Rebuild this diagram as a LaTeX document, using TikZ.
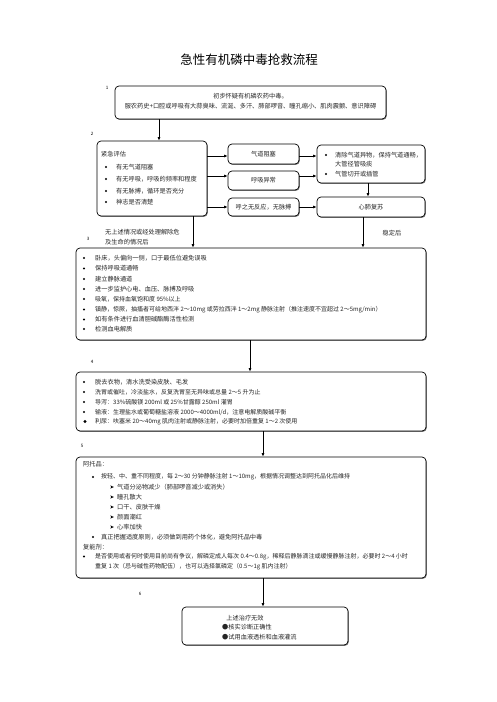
\documentclass[tikz,border=0pt]{standalone}
\usepackage{fontspec}
\setmainfont{Noto Sans CJK SC}
\usetikzlibrary{arrows.meta,shadows}
\newcommand\subarr[2]{\fill (#1-1.6,#2-1.6) -- (#1+1.8,#2) -- (#1-1.6,#2+1.6) -- (#1-0.8,#2) -- cycle;}
\newcommand\bul[2]{\fill (#1,#2) circle (1.1pt);}
\begin{document}
\begin{tikzpicture}[x=1pt,y=-1pt,
  box/.style={draw,line width=0.7pt,rounded corners=4pt,fill=white,inner sep=0pt,
    drop shadow={shadow xshift=0.8pt,shadow yshift=-0.9pt,fill=black!60,opacity=0.85}},
  txt/.style={font=\fontsize{6.2}{7}\selectfont,inner sep=0pt,text=black!85},
  txtl/.style={txt,font=\fontsize{6.0}{7}\selectfont},
  lbl/.style={font=\fontsize{4.5}{5}\selectfont,inner sep=0pt},
  arr/.style={-{Latex[length=3.5pt,width=3pt]},line width=0.7pt}]
\useasboundingbox (0,0) rectangle (496,702);
\fill[white] (0,0) rectangle (496,702);

\node[font=\fontsize{12.5}{14}\selectfont,inner sep=0pt] (title) at (249,60) {急性有机磷中毒抢救流程};

% section labels
\node[lbl] (n1) at (107,88) {1};
\node[lbl] (n2) at (92,134) {2};
\node[lbl] (n3) at (88,239) {3};
\node[lbl] (n4) at (92,362) {4};
\node[lbl] (n5) at (82,446) {5};
\node[lbl] (n6) at (140,594) {6};

% box 1
\node[box,minimum width=271pt,minimum height=33pt] (b1) at (250.5,102.5) {};
\node[txt] (t1a) at (250.5,96) {初步怀疑有机磷农药中毒。};
\node[txt] (t1b) at (250.5,106.5) {服农药史+口腔或呼吸有大蒜臭味、流涎、多汗、肺部啰音、瞳孔缩小、肌肉震颤、意识障碍};

% box 2 (assessment)
\node[box,minimum width=110pt,minimum height=75pt] (b2) at (152,178.5) {};
\node[txt,anchor=west] (t2a) at (101,154) {紧急评估};
\bul{106}{167}\node[txt,anchor=west] (t2b) at (116,167) {有无气道阻塞};
\bul{106}{179}\node[txt,anchor=west] (t2c) at (116,179) {有无呼吸，呼吸的频率和程度};
\bul{106}{191}\node[txt,anchor=west] (t2d) at (116,191) {有无脉搏，循环是否充分};
\bul{106}{202}\node[txt,anchor=west] (t2e) at (116,202) {神志是否清楚};

% middle boxes
\node[box,minimum width=71pt,minimum height=20pt] (qd) at (263.5,154) {};
\node[txt] (tqd) at (263.5,154) {气道阻塞};
\node[box,minimum width=71pt,minimum height=19pt] (hx) at (263.5,180.5) {};
\node[txt] (thx) at (263.5,180.5) {呼吸异常};
\node[box,minimum width=71pt,minimum height=18pt] (wf) at (263.5,207) {};
\node[txt] (twf) at (263.5,207) {呼之无反应，无脉搏};

% right boxes
\node[box,minimum width=108pt,minimum height=38pt] (rb) at (371,164) {};
\bul{326}{155}\node[txt,anchor=west] (trb1) at (335,155) {清除气道异物，保持气道通畅，};
\node[txt,anchor=west] (trb2) at (335,164.5) {大管径管吸痰};
\bul{326}{174}\node[txt,anchor=west] (trb3) at (335,174) {气管切开或插管};
\node[box,minimum width=108pt,minimum height=20pt] (cpr) at (371,207) {};
\node[txt] (tcpr) at (371,207) {心肺复苏};

% free texts
\node[txt,anchor=west] (f1) at (105,232) {无上述情况或经处理解除危};
\node[txt,anchor=west] (f2) at (105,242) {及生命的情况后};
\node[txt] (f3) at (392,233) {稳定后};

% box 3
\node[box,minimum width=350pt,minimum height=92pt] (b3) at (251,294) {};
\bul{84}{258}\node[txt,anchor=west] (t3a) at (95,258) {卧床，头偏向一侧，口于最低位避免误吸};
\bul{84}{268.5}\node[txt,anchor=west] (t3b) at (95,268.5) {保持呼吸道通畅};
\bul{84}{279}\node[txt,anchor=west] (t3c) at (95,279) {建立静脉通道};
\bul{84}{289}\node[txt,anchor=west] (t3d) at (95,289) {进一步监护心电、血压、脉搏及呼吸};
\bul{84}{299}\node[txtl,anchor=west] (t3e) at (95,299) {吸氧，保持血氧饱和度 95\%以上};
\bul{84}{309.5}\node[txtl,anchor=west] (t3f) at (95,309.5) {镇静，惊厥，抽搐者可给地西泮 2～10mg 或劳拉西泮 1～2mg 静脉注射（推注速度不宜超过 2～5mg/min）};
\bul{84}{319.5}\node[txt,anchor=west] (t3g) at (95,319.5) {如有条件进行血清胆碱酯酶活性检测};
\bul{84}{329}\node[txt,anchor=west] (t3h) at (95,329) {检测血电解质};

% box 4
\node[box,minimum width=350pt,minimum height=59pt] (b4) at (251,401.5) {};
\bul{84}{382}\node[txt,anchor=west] (t4a) at (95,382) {脱去衣物，清水洗受染皮肤、毛发};
\bul{84}{392}\node[txtl,anchor=west] (t4b) at (95,392) {洗胃或催吐，冷淡盐水，反复洗胃至无异味或总量 2～5 升为止};
\bul{84}{402}\node[txtl,anchor=west] (t4c) at (95,402) {导泻：33\%硫酸镁 200ml 或 25\%甘露醇 250ml 灌胃};
\bul{84}{412}\node[txtl,anchor=west] (t4d) at (95,412) {输液：生理盐水或葡萄糖盐溶液 2000～4000ml/d，注意电解质酸碱平衡};
\fill (85,421.5) circle (1.7pt);\node[txtl,anchor=west] (t4e) at (95,421.5) {利尿：呋塞米 20～40mg 肌肉注射或静脉注射，必要时加倍重复 1～2 次使用};

% box 5
\node[box,minimum width=350pt,minimum height=121pt] (b5) at (251,517.5) {};
\node[txt,anchor=west] (t5a) at (83,464) {阿托品：};
\bul{93}{477}\node[txtl,anchor=west] (t5b) at (101,477) {按轻、中、重不同程度，每 2～30 分钟静脉注射 1～10mg，根据情况调整达到阿托品化后维持};
\subarr{112}{487}\node[txt,anchor=west] (t5c) at (117,487) {气道分泌物减少（肺部啰音减少或消失）};
\subarr{112}{497}\node[txt,anchor=west] (t5d) at (117,497) {瞳孔散大};
\subarr{112}{507}\node[txt,anchor=west] (t5e) at (117,507) {口干、皮肤干燥};
\subarr{112}{517}\node[txt,anchor=west] (t5f) at (117,517) {颜面潮红};
\subarr{112}{527}\node[txt,anchor=west] (t5g) at (117,527) {心率加快};
\bul{93}{537}\node[txt,anchor=west] (t5h) at (101,537) {真正把握适度原则，必须做到用药个体化，避免阿托品中毒};
\node[txt,anchor=west] (t5i) at (83,547) {复能剂：};
\bul{84}{556.5}\node[txtl,anchor=west] (t5j) at (95,556.5) {是否使用或者何时使用目前尚有争议，解磷定成人每次 0.4～0.8g，稀释后静脉滴注或缓慢静脉注射，必要时 2～4 小时};
\node[txtl,anchor=west] (t5k) at (95,567) {重复 1 次（忌与碱性药物配伍），也可以选择氯磷定（0.5～1g 肌内注射）};

% box 6
\node[box,minimum width=166pt,minimum height=38pt] (b6) at (265,626) {};
\node[txt] (t6a) at (245,618) {上述治疗无效};
\node[txt,anchor=west] (t6b) at (222,627.5) {●核实诊断正确性};
\node[txt,anchor=west] (t6c) at (222,637) {●试用血液透析和血液灌流};

% connectors
\coordinate (c1) at (159,0);
\draw[arr] (b1.south -| c1) -- (b2.north -| c1);
\coordinate (r1) at (0,156);
\coordinate (r2) at (0,176);
\coordinate (r3) at (0,207);
\draw[arr] (b2.east |- r1) -- (qd.west |- r1);
\draw[arr] (b2.east |- r2) -- (hx.west |- r2);
\draw[arr] (b2.east |- r3) -- (wf.west |- r3);
\draw[arr] (qd.east |- r1) -- (rb.west |- r1);
\draw[arr] (hx.east |- r2) -- (rb.west |- r2);
\draw[arr] (wf.east |- r3) -- (cpr.west |- r3);
\coordinate (c2) at (368,0);
\draw[arr] (rb.south -| c2) -- (cpr.north -| c2);
\coordinate (c3) at (193,0);
\draw[arr] (b2.south -| c3) -- (b3.north -| c3);
\coordinate (c4) at (363,0);
\draw[arr] (cpr.south -| c4) -- (b3.north -| c4);
\coordinate (c5) at (250,0);
\draw[arr] (b3.south -| c5) -- (b4.north -| c5);
\coordinate (c6) at (263,0);
\draw[arr] (b4.south -| c6) -- (b5.north -| c6);
\draw[arr] (b5.south -| c6) -- (b6.north -| c6);
\end{tikzpicture}
\end{document}
